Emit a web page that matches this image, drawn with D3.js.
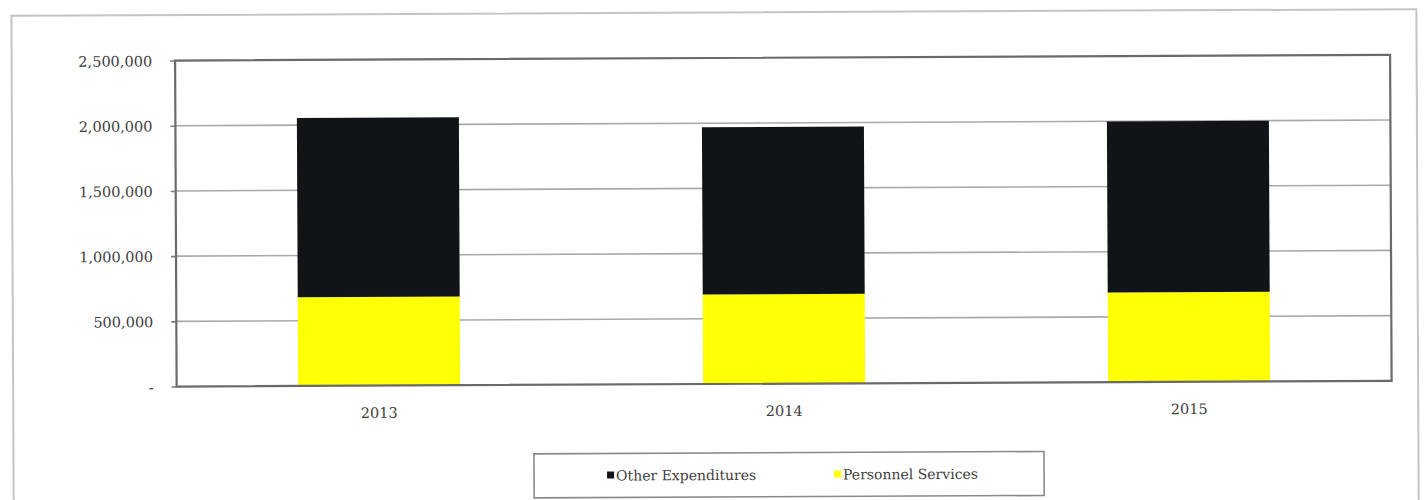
<!DOCTYPE html>
<html>
<head>
<meta charset="utf-8">
<script src="https://cdn.jsdelivr.net/npm/d3@7/dist/d3.min.js"></script>
<style>
  html, body { margin: 0; padding: 0; background: #ffffff; }
  svg { display: block; }
  svg text { font-family: "DejaVu Serif", "Liberation Serif", serif !important; }
</style>
</head>
<body>
<svg id="chart" width="1428" height="500"></svg>
<script>
// Fiscal years shown on the x axis
const years = ["2013", "2014", "2015"];
// Spending by year, stacked: personnel at the bottom, other expenditures on top
const personnelServices = [680000, 686000, 688000];
const otherExpenditures = [1375000, 1284000, 1310000];
// Series names and fills for the legend and stack
const seriesNames = ["Other Expenditures", "Personnel Services"];
const seriesColors = ["#111417", "#ffff05"];
// Value axis ticks
const yTicks = [0, 500000, 1000000, 1500000, 2000000, 2500000];

const W = 1428, H = 500;
const plot = { left: 176, top: 58, right: 1391, bottom: 384 };
const FONT = '"DejaVu Serif", "Liberation Serif", serif';

const svg = d3.select("#chart");
// the whole sheet sits at a very slight tilt
const root = svg.append("g").attr("transform", `rotate(-0.27, ${W / 2}, ${H / 2})`);

// outer chart frame
root.append("rect")
  .attr("x", 12.5).attr("y", 12.5)
  .attr("width", 1405).attr("height", 492)
  .attr("fill", "none").attr("stroke", "#c4c4c4").attr("stroke-width", 2);

const x = d3.scaleBand()
  .domain(years)
  .range([plot.left, plot.right])
  .paddingInner(0.6)
  .paddingOuter(0.3);

const y = d3.scaleLinear()
  .domain([0, 2500000])
  .range([plot.bottom, plot.top]);

// horizontal gridlines
root.append("g")
  .selectAll("line")
  .data(yTicks.slice(1, -1))
  .join("line")
  .attr("x1", plot.left).attr("x2", plot.right)
  .attr("y1", d => y(d)).attr("y2", d => y(d))
  .attr("stroke", "#a9a9a9").attr("stroke-width", 1.6);

// stacked bars
const rows = years.map((yr, i) => ({
  year: yr,
  "Personnel Services": personnelServices[i],
  "Other Expenditures": otherExpenditures[i]
}));
const stack = d3.stack().keys(["Personnel Services", "Other Expenditures"]);
const layers = stack(rows);
const color = d3.scaleOrdinal().domain(seriesNames).range(seriesColors);

root.append("g")
  .selectAll("g")
  .data(layers)
  .join("g")
  .attr("fill", d => color(d.key))
  .selectAll("rect")
  .data(d => d)
  .join("rect")
  .attr("x", d => x(d.data.year))
  .attr("width", x.bandwidth())
  .attr("y", d => y(d[1]))
  .attr("height", d => y(d[0]) - y(d[1]));

// plot area border
root.append("rect")
  .attr("x", plot.left).attr("y", plot.top)
  .attr("width", plot.right - plot.left).attr("height", plot.bottom - plot.top)
  .attr("fill", "none").attr("stroke", "#6a6a6a").attr("stroke-width", 2.2);

// value axis
const yAxis = d3.axisLeft(y)
  .tickValues(yTicks)
  .tickSize(5)
  .tickPadding(18)
  .tickFormat(d => d === 0 ? "-  " : d3.format(",")(d));
const gy = root.append("g")
  .attr("transform", `translate(${plot.left},0)`)
  .call(yAxis);
gy.select(".domain").remove();
gy.selectAll(".tick line").attr("stroke", "#7a7a7a").attr("stroke-width", 1.6);
gy.selectAll(".tick text")
  .attr("font-size", 14.5)
  .attr("font-family", FONT)
  .attr("fill", "#404040")
  .attr("dy", "0.36em");

// category axis
const xAxis = d3.axisBottom(x).tickSize(0).tickPadding(22);
const gx = root.append("g")
  .attr("transform", `translate(0,${plot.bottom})`)
  .call(xAxis);
gx.select(".domain").remove();
gx.selectAll(".tick text")
  .attr("font-size", 14.5)
  .attr("font-family", FONT)
  .attr("fill", "#404040");

// legend
const legend = root.append("g").attr("transform", "translate(533,453)");
legend.append("rect")
  .attr("width", 510).attr("height", 44)
  .attr("fill", "#ffffff").attr("stroke", "#8a8a8a").attr("stroke-width", 1.6);
const items = legend.selectAll("g.item")
  .data(seriesNames)
  .join("g")
  .attr("class", "item")
  .attr("transform", (d, i) => `translate(${i === 0 ? 73 : 300},22)`);
items.append("rect")
  .attr("x", 0).attr("y", -4).attr("width", 7).attr("height", 7)
  .attr("fill", d => color(d));
items.append("text")
  .attr("x", 9).attr("dy", "0.36em")
  .attr("font-size", 14)
  .attr("font-family", FONT)
  .attr("fill", "#404040")
  .text(d => d);
</script>
</body>
</html>
